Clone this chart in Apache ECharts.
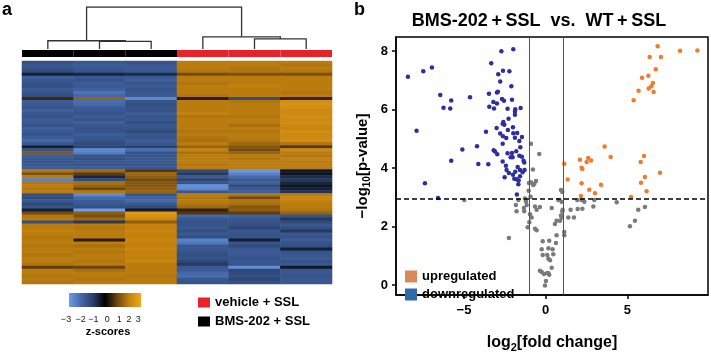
<!DOCTYPE html>
<html>
<head>
<meta charset="utf-8">
<script src="https://cdn.jsdelivr.net/npm/echarts@6/dist/echarts.min.js"></script>
<style>
html, body { margin: 0; padding: 0; background: #fff; }
#chart { width: 711px; height: 358px; }
</style>
</head>
<body>
<div id="chart"></div>
<script>
// ---- panel a: heatmap ----
const samples = ['S1', 'S2', 'S3', 'S4', 'S5', 'S6'];
const sampleGroup = ['BMS-202 + SSL', 'BMS-202 + SSL', 'BMS-202 + SSL', 'vehicle + SSL', 'vehicle + SSL', 'vehicle + SSL'];
const groupNames = ['vehicle + SSL', 'BMS-202 + SSL'];
const groupColors = ['#e8222b', '#000000'];

// z-scores, one row per gene, columns follow samples
const heatRows = [
  [-1.4, -1.6, -1.5, 1.9, 1.9, 1.9],
  [-1.6, -1.7, -1.6, 1.9, 1.9, 1.8],
  [-1.5, -1.6, -1.7, 1.9, 1.8, 1.9],
  [-1.3, -1.5, -1.6, 1.8, 1.8, 1.8],
  [-0.5, -0.6, -0.7, 1.1, 1.2, 1.2],
  [-1.8, -1.6, -1.6, 1.9, 1.9, 1.9],
  [-1.6, -1.5, -1.8, 1.9, 1.9, 1.9],
  [-1.5, -1.7, -1.5, 1.8, 1.9, 1.9],
  [-1.4, -1.6, -1.7, 1.9, 2.0, 1.9],
  [-1.7, -1.8, -1.5, 1.9, 1.9, 1.9],
  [-1.5, -2.2, -1.6, 1.9, 1.9, 1.8],
  [-1.4, -2.0, -1.6, 1.8, 1.9, 1.9],
  [0.6, 1.5, -2.6, 0.4, -1.4, 0.5],
  [-1.7, -2.1, -1.5, 1.9, 1.8, 2.3],
  [-1.6, -2.0, -1.4, 1.9, 1.9, 2.4],
  [-1.5, -1.7, -1.5, 1.9, 1.9, 2.3],
  [-1.8, -1.6, -1.5, 1.9, 1.9, 2.2],
  [-1.6, -1.5, -1.7, 2.0, 1.9, 2.2],
  [-1.5, -1.7, -1.5, 1.8, 1.8, 2.3],
  [-1.7, -1.5, -1.6, 1.9, 1.9, 2.2],
  [-1.6, -1.8, -1.4, 1.9, 1.9, 2.3],
  [-1.5, -1.6, -1.6, 1.9, 1.7, 2.2],
  [-1.8, -1.5, -1.5, 1.9, 1.9, 2.1],
  [-1.6, -1.5, -1.3, 1.8, 1.8, 2.3],
  [-1.5, -1.7, -1.6, 1.9, 1.9, 2.2],
  [-1.7, -1.6, -1.5, 1.8, 1.9, 2.2],
  [-2.0, -1.5, -1.7, 1.7, 1.8, 2.3],
  [-1.6, -1.3, -1.6, 1.9, 1.6, 1.8],
  [-0.5, -1.1, -1.0, 1.5, 1.3, 0.8],
  [-1.5, -2.6, -2.1, 2.0, 1.1, 2.2],
  [1.3, -2.4, -1.5, 1.7, 1.5, 1.9],
  [-1.7, -1.5, -1.5, 1.9, 1.9, 1.8],
  [-1.6, -1.4, -1.6, 1.9, 1.8, 2.0],
  [-1.5, -1.6, -1.6, 1.9, 1.9, 1.9],
  [-1.6, -1.5, -1.5, 1.8, 1.9, 1.9],
  [-1.7, -1.7, -1.6, 1.9, 1.9, 1.9],
  [1.8, 1.6, 0.8, -1.3, -2.8, -0.4],
  [1.2, 0.9, 1.6, -0.9, -2.5, -0.3],
  [1.9, -0.6, 1.4, -1.6, -2.0, -0.7],
  [-2.5, -1.3, 1.1, -1.1, -1.6, -0.9],
  [1.8, 1.7, 1.3, -1.5, -1.8, -0.6],
  [1.9, 1.5, 1.3, -2.7, -1.3, -0.3],
  [1.8, 1.0, 1.4, -2.6, -1.6, -0.5],
  [1.9, 1.8, 1.5, -1.6, -1.8, -0.8],
  [-1.4, -2.6, -1.5, 1.9, 1.8, 1.9],
  [-1.3, -2.0, -1.8, 1.8, 1.1, 2.1],
  [-1.6, -1.7, -2.0, 1.9, 1.8, 2.0],
  [-1.2, -1.6, -1.6, 1.8, 1.7, 1.9],
  [-1.5, -1.4, -1.3, 1.6, 1.3, 1.9],
  [-0.5, -3.0, -0.4, 0.5, 1.4, 1.8],
  [1.1, 1.4, 2.6, 0.8, 0.9, 1.5],
  [1.8, 1.2, 2.4, -2.0, -1.8, -1.5],
  [1.9, 1.6, 2.2, -1.6, -1.6, -0.9],
  [-1.4, -0.9, 1.4, -1.5, -1.5, -1.3],
  [1.9, 1.9, 2.0, -1.5, -1.4, -1.6],
  [1.9, 1.8, 2.0, -1.6, -1.2, -1.4],
  [2.0, 1.9, 2.1, -1.4, -1.6, -0.9],
  [1.9, 1.9, 2.0, -1.6, -1.5, -1.6],
  [1.8, 1.9, 2.0, -1.4, -1.5, -1.5],
  [1.9, 0.4, 2.1, -2.5, -0.5, -1.7],
  [1.9, 1.9, 2.0, -2.3, -1.5, -1.5],
  [1.8, 1.7, 2.0, -1.6, -1.3, -1.4],
  [1.9, 1.9, 2.1, -1.6, -1.6, -0.5],
  [1.9, 1.8, 2.0, -1.5, -1.7, -1.5],
  [1.8, 1.9, 2.0, -1.4, -1.6, -1.6],
  [1.9, 1.9, 2.0, -1.5, -1.5, -1.7],
  [1.9, 1.8, 2.1, -1.2, -1.6, -1.5],
  [1.8, 1.9, 1.9, -0.9, -1.5, -1.6],
  [0.9, 1.0, 1.9, -1.6, -2.7, -0.4],
  [1.9, 1.7, 1.9, -1.7, -1.2, -1.6],
  [1.9, 1.9, 1.9, -2.0, -1.3, -1.6],
  [1.8, 1.9, 1.8, -2.1, -1.4, -1.5],
  [1.9, 1.8, 1.9, -1.6, -1.2, -1.6],
  [1.8, 1.9, 1.9, -1.5, -1.4, -1.6]
];

// dendrogram: [left, right, height]; Lk = sample k, Nk = merge k
const merges = [
  ['L1', 'L2', 0.18],
  ['L0', 'N0', 0.196],
  ['L4', 'L5', 0.243],
  ['L3', 'N2', 0.29],
  ['N1', 'N3', 1.0]
];

const zColors = ['#6d9ee8', '#4468aa', '#2a3f6a', '#000000', '#6a4510', '#c3820f', '#f4a71d'];
const zTicks = ['\u22123', '\u22122', '\u22121', '0', '1', '2', '3'];

// ---- panel b: volcano ----
const downPts = [
  [-2.71, 7.99], [-1.98, 8.06], [-7.49, 7.31], [-6.96, 7.44], [-8.43, 7.12], [-3.33, 7.58], [-2.61, 7.33], [-2.22, 7.31],
  [-2.90, 7.21], [-2.78, 6.96], [-2.10, 6.80], [-2.92, 6.61], [-2.98, 6.58], [-6.45, 6.50], [-5.78, 6.31], [-4.63, 6.42],
  [-3.47, 6.54], [-2.67, 6.36], [-2.55, 6.30], [-2.06, 6.34], [-3.20, 6.26], [-2.98, 6.21], [-6.25, 6.06], [-5.84, 6.04],
  [-3.45, 6.10], [-3.16, 6.04], [-2.33, 6.03], [-1.86, 6.01], [-1.88, 5.93], [-1.53, 6.05], [-1.88, 5.82], [-2.27, 5.69],
  [-2.59, 5.58], [-2.63, 5.52], [-2.53, 5.48], [-2.00, 5.40], [-2.31, 5.30], [-3.00, 5.37], [-7.90, 5.28], [-3.65, 5.24],
  [-2.78, 5.18], [-2.61, 5.09], [-2.41, 5.03], [-1.98, 5.19], [-1.74, 5.20], [-1.88, 5.04], [-1.61, 4.93], [-1.45, 5.06],
  [-2.63, 4.83], [-5.10, 4.64], [-4.20, 4.75], [-3.18, 4.61], [-3.10, 4.57], [-2.96, 4.47], [-2.33, 4.51], [-2.06, 4.52],
  [-1.80, 4.58], [-1.55, 4.71], [-2.14, 4.37], [-2.02, 4.37], [-1.61, 4.42], [-1.45, 4.39], [-5.78, 4.25], [-1.35, 4.25],
  [-1.31, 4.19], [-4.12, 4.14], [-3.51, 4.13], [-2.63, 4.23], [-2.43, 4.08], [-2.39, 3.94], [-2.25, 3.83], [-2.51, 3.69],
  [-2.00, 3.77], [-1.86, 3.88], [-1.71, 4.04], [-1.57, 3.94], [-1.41, 3.86], [-1.29, 3.94], [-1.92, 3.64], [-1.78, 3.62],
  [-1.65, 3.58], [-1.57, 3.72], [-1.67, 3.45], [-1.76, 3.10], [-7.39, 3.48], [-6.59, 2.98]
];
const upPts = [
  [1.14, 4.15], [2.10, 4.29], [2.20, 4.01], [2.25, 3.97], [2.51, 4.21], [2.78, 4.26], [1.35, 3.61], [2.20, 3.48],
  [2.67, 3.26], [3.02, 3.14], [3.39, 3.43], [2.16, 3.05], [5.82, 4.21], [6.08, 3.70], [5.84, 3.50], [7.00, 3.84],
  [6.18, 3.21], [5.23, 3.01], [6.86, 8.16], [8.23, 8.01], [9.29, 8.02], [6.37, 7.80], [7.06, 7.80], [6.74, 7.38],
  [5.90, 7.09], [6.29, 7.16], [6.57, 6.91], [6.47, 6.80], [6.31, 6.72], [6.61, 6.60], [5.69, 6.64], [5.39, 6.32],
  [3.61, 4.74], [3.98, 4.38], [2.61, 4.35], [6.02, 4.41]
];
const nsPts = [
  [-0.90, 4.83], [-0.39, 4.48], [-0.78, 3.95], [-0.59, 3.56], [-0.90, 3.52], [-0.76, 3.42], [-1.02, 3.49], [-0.69, 3.47],
  [-1.27, 2.96], [-1.16, 2.74], [-1.67, 2.91], [-1.82, 2.74], [-1.33, 2.64], [-0.65, 2.69], [-0.35, 2.67], [-0.55, 2.58],
  [-1.31, 2.53], [-0.96, 2.42], [-0.86, 2.31], [-1.78, 2.53], [-1.00, 2.15], [-1.10, 1.98], [-0.65, 1.93], [-0.55, 1.88],
  [-1.04, 3.23], [-0.92, 3.02], [-1.20, 2.86], [0.37, 2.64], [0.94, 3.25], [1.02, 3.18], [0.78, 2.91], [0.98, 2.85],
  [1.04, 2.58], [1.02, 2.52], [0.94, 2.38], [0.67, 2.20], [0.57, 2.09], [0.88, 2.20], [0.98, 2.31], [-0.18, 1.50],
  [-4.98, 2.91], [-2.25, 1.61], [0.22, 1.52], [0.63, 1.44], [-0.24, 1.23], [0.17, 1.26], [0.43, 1.23], [-0.18, 1.03],
  [0.10, 1.03], [0.47, 1.06], [0.17, 0.90], [0.27, 0.85], [-0.35, 0.49], [-0.24, 0.45], [-0.10, 0.38], [0.10, 0.42],
  [0.22, 0.36], [0.17, 0.41], [0.02, 0.14], [-0.04, -0.01], [1.14, 1.71], [1.14, 1.82], [0.67, 1.71], [0.37, 0.60],
  [1.39, 2.31], [1.73, 2.31], [1.53, 2.58], [1.96, 2.60], [2.25, 2.61], [1.94, 2.91], [2.20, 2.91], [2.37, 2.85],
  [2.92, 2.69], [2.98, 2.91], [4.35, 2.83], [5.67, 2.58], [6.08, 2.67], [5.16, 2.01], [5.47, 2.20]
];
const foldCuts = [-0.98, 1.08];
const pCut = 2.94;
const volXTicks = [-5, 0, 5];
const volYTicks = [0, 2, 4, 6, 8];

const FONT = '"Liberation Sans", Arial, sans-serif';
const chart = echarts.init(document.getElementById('chart'));

// heatmap cells
const heatData = [];
heatRows.forEach((row, r) => row.forEach((v, c) => heatData.push([c, r, v])));

// dendrogram polylines
const nodes = [];
function pos(id) {
  const k = +id.slice(1);
  return id[0] === 'L' ? [k + 0.5, 0] : nodes[k];
}
const dendroLines = merges.map(([a, b, h]) => {
  const pa = pos(a), pb = pos(b);
  nodes.push([(pa[0] + pb[0]) / 2, h]);
  return { coords: [[pa[0], pa[1]], [pa[0], h], [pb[0], h], [pb[0], pb[1]]] };
});

const minusFmt = v => (v < 0 ? '\u2212' + Math.abs(v) : String(v));
const zTickX = [66, 80.7, 93.3, 107.3, 119.3, 129, 138.3];

const options = {
  animation: false,
  title: {
    text: 'BMS-202\u2009+\u2009SSL  vs.  WT\u2009+\u2009SSL',
    left: 539, top: 12, padding: 0, textAlign: 'center',
    textStyle: { fontFamily: FONT, fontSize: 18, fontWeight: 'bold', color: '#000' }
  },
  grid: [
    { left: 22, top: 7, width: 310, height: 42 },                 // dendrogram
    { left: 22, top: 50, width: 310, height: 7 },                 // group bar
    { left: 22, top: 61, width: 310, height: 223 },               // heatmap
    { left: 396, top: 37, width: 312, height: 271, show: true, borderColor: '#000', borderWidth: 1.5 } // volcano
  ],
  xAxis: [
    { gridIndex: 0, type: 'value', min: 0, max: 6, show: false },
    { gridIndex: 1, type: 'category', data: samples, show: false },
    { gridIndex: 2, type: 'category', data: samples, show: false },
    {
      gridIndex: 3, type: 'value', min: -9.16, max: 9.94,
      splitLine: { show: false },
      axisLine: { show: true, onZero: false, lineStyle: { color: '#000', width: 1.5 } },
      axisTick: { show: true, length: 4, customValues: volXTicks, lineStyle: { color: '#000', width: 1.5 } },
      axisLabel: { customValues: volXTicks, formatter: minusFmt, margin: 9, color: '#000', fontFamily: FONT, fontSize: 13, fontWeight: 'bold' },
      name: 'log{s|2}[fold change]', nameLocation: 'middle', nameGap: 38,
      nameTextStyle: {
        fontFamily: FONT, fontSize: 16, fontWeight: 'bold', color: '#000',
        rich: { s: { fontFamily: FONT, fontSize: 11, fontWeight: 'bold', color: '#000', padding: [9, 0, 0, 0] } }
      }
    }
  ],
  yAxis: [
    { gridIndex: 0, type: 'value', min: 0, max: 1, show: false },
    { gridIndex: 1, type: 'value', min: 0, max: 1, show: false },
    { gridIndex: 2, type: 'category', data: heatRows.map((_, i) => 'g' + i), inverse: true, show: false },
    {
      gridIndex: 3, type: 'value', min: -0.335, max: 8.48,
      splitLine: { show: false },
      axisLine: { show: true, onZero: false, lineStyle: { color: '#000', width: 1.5 } },
      axisTick: { show: true, length: 4, customValues: volYTicks, lineStyle: { color: '#000', width: 1.5 } },
      axisLabel: { customValues: volYTicks, margin: 8, color: '#000', fontFamily: FONT, fontSize: 13, fontWeight: 'bold' },
      name: '\u2212log{s|10}[p-value]', nameLocation: 'middle', nameGap: 24, nameRotate: 90,
      nameTextStyle: {
        fontFamily: FONT, fontSize: 15, fontWeight: 'bold', color: '#000',
        rich: { s: { fontFamily: FONT, fontSize: 10, fontWeight: 'bold', color: '#000', padding: [8, 0, 0, 0] } }
      }
    }
  ],
  visualMap: {
    show: false, type: 'continuous', seriesIndex: 3, min: -3, max: 3,
    inRange: { color: zColors }
  },
  legend: [
    {
      data: groupNames, left: 198, top: 296, orient: 'vertical', padding: 0,
      itemWidth: 12, itemHeight: 10, itemGap: 6, icon: 'rect', selectedMode: false,
      textStyle: { fontFamily: FONT, fontSize: 13, fontWeight: 'bold', color: '#000' }
    },
    {
      data: [
        { name: 'upregulated', itemStyle: { color: '#d98a58', opacity: 1 } },
        { name: 'downregulated', itemStyle: { color: '#2f6bab', opacity: 1 } }
      ],
      left: 405, top: 270, orient: 'vertical', padding: 0,
      itemWidth: 12, itemHeight: 12, itemGap: 5, icon: 'rect', selectedMode: false,
      textStyle: { fontFamily: FONT, fontSize: 13, fontWeight: 'bold', color: '#000' }
    }
  ],
  series: [
    {
      type: 'lines', coordinateSystem: 'cartesian2d', xAxisIndex: 0, yAxisIndex: 0,
      polyline: true, silent: true, data: dendroLines,
      lineStyle: { color: '#333', width: 1.3, opacity: 1 }
    },
    {
      name: groupNames[1], type: 'bar', xAxisIndex: 1, yAxisIndex: 1, stack: 'g', barCategoryGap: '0%',
      itemStyle: { color: groupColors[1] },
      data: sampleGroup.map(g => (g === groupNames[1] ? 1 : '-'))
    },
    {
      name: groupNames[0], type: 'bar', xAxisIndex: 1, yAxisIndex: 1, stack: 'g', barCategoryGap: '0%',
      itemStyle: { color: groupColors[0] },
      data: sampleGroup.map(g => (g === groupNames[0] ? 1 : '-'))
    },
    {
      type: 'heatmap', xAxisIndex: 2, yAxisIndex: 2, data: heatData,
      itemStyle: { borderWidth: 0 }, emphasis: { disabled: true }
    },
    {
      name: 'ns', type: 'scatter', xAxisIndex: 3, yAxisIndex: 3, data: nsPts,
      symbolSize: 4.5, itemStyle: { color: '#7a7a7a', opacity: 1 },
      markLine: {
        silent: true, symbol: 'none', label: { show: false },
        data: [
          { xAxis: foldCuts[0], lineStyle: { color: '#555', width: 1, type: 'solid' } },
          { xAxis: foldCuts[1], lineStyle: { color: '#555', width: 1, type: 'solid' } },
          { yAxis: pCut, lineStyle: { color: '#000', width: 1.5, type: [5, 3] } }
        ]
      }
    },
    {
      name: 'downregulated', type: 'scatter', xAxisIndex: 3, yAxisIndex: 3, data: downPts,
      symbolSize: 4.5, itemStyle: { color: '#2e2e9e', opacity: 1 }
    },
    {
      name: 'upregulated', type: 'scatter', xAxisIndex: 3, yAxisIndex: 3, data: upPts,
      symbolSize: 4.5, itemStyle: { color: '#f07b2c', opacity: 1 }
    }
  ],
  graphic: [
    { type: 'text', left: 2, top: 1, style: { text: 'a', font: 'bold 18px ' + FONT, fill: '#000' } },
    { type: 'text', left: 354, top: 1, style: { text: 'b', font: 'bold 18px ' + FONT, fill: '#000' } },
    {
      type: 'rect', shape: { x: 69, y: 293, width: 72, height: 14 },
      style: {
        fill: new echarts.graphic.LinearGradient(0, 0, 1, 0,
          zColors.map((c, i) => ({ offset: i / (zColors.length - 1), color: c })))
      }
    },
    ...zTicks.map((t, i) => ({
      type: 'text', x: zTickX[i], y: 320,
      style: { text: t, font: '9px ' + FONT, fill: '#222', align: 'center', verticalAlign: 'middle' }
    })),
    {
      type: 'text', x: 108, y: 332,
      style: { text: 'z-scores', font: 'bold 11px ' + FONT, fill: '#000', align: 'center', verticalAlign: 'middle' }
    }
  ]
};
chart.setOption(options);
</script>
</body>
</html>
